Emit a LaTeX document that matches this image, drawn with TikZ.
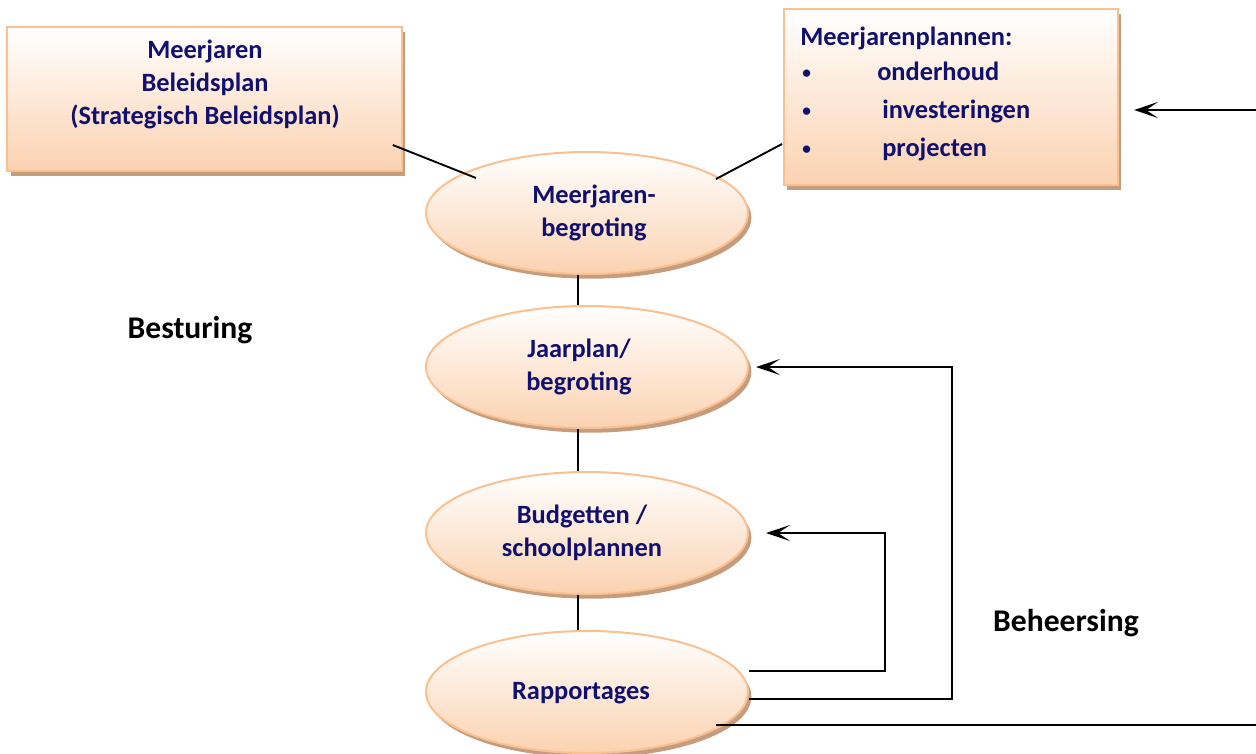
\documentclass[tikz,border=0pt]{standalone}
\usepackage{fontspec}
\setmainfont{Carlito}
\usetikzlibrary{shapes.geometric,shadows,arrows.meta}
\definecolor{navytext}{RGB}{16,16,112}
\definecolor{peachfill}{RGB}{251,210,176}
\definecolor{peachline}{RGB}{250,192,144}
\definecolor{shadowtan}{RGB}{196,156,126}
\tikzset{
  peach/.style={draw=peachline, line width=1.5pt, top color=white, bottom color=peachfill,
    drop shadow={shadow xshift=2.5pt, shadow yshift=-3.5pt, fill=shadowtan, opacity=1}},
  planbox/.style={peach, rectangle, inner sep=0pt},
  fase/.style={peach, ellipse, minimum width=241.5pt, minimum height=91.5pt, inner sep=0pt},
  boxtext/.style={inner sep=0pt, text=navytext, font=\fontsize{19.8}{24.75}\selectfont\bfseries},
  bol/.style={inner sep=0pt, text=navytext, font=\fontsize{13}{16}\selectfont\bfseries},
  kop/.style={inner sep=0pt, font=\fontsize{23.7}{28}\selectfont\bfseries},
  verbinding/.style={line width=1.4pt},
  terug/.style={line width=1.4pt, -{Stealth[length=18pt,width=12pt,inset=9pt]}}
}
\begin{document}
\begin{tikzpicture}[x=0.75pt,y=-0.75pt]
\useasboundingbox (0,0) rectangle (1256,753);
% kaders bovenaan
\node[planbox, minimum width=296pt, minimum height=108pt] (beleidsplan) at (204.5,99) {};
\node[boxtext, align=center] (beleidstekst) at (205,84) {Meerjaren\\Beleidsplan\\(Strategisch Beleidsplan)};
\node[planbox, minimum width=250.5pt, minimum height=132pt] (plannen) at (951,97) {};
\node[boxtext, anchor=base west] (plankop) at (800,45) {Meerjarenplannen:};
\node[bol, anchor=base west] (bol1) at (802,78) {•};
\node[bol, anchor=base west] (bol2) at (802,116) {•};
\node[bol, anchor=base west] (bol3) at (802,154) {•};
\node[boxtext, anchor=base west] (item1) at (877,80) {onderhoud};
\node[boxtext, anchor=base west] (item2) at (882,118) {investeringen};
\node[boxtext, anchor=base west] (item3) at (882,156) {projecten};
% ellipsen
\node[fase] (mjbegroting) at (587,213) {};
\node[fase] (jaarplan) at (587,367) {};
\node[fase] (budgetten) at (587,533) {};
\node[fase] (rapportages) at (587,692) {};
\node[boxtext, align=center] (mjtekst) at (594,213) {Meerjaren-\\begroting};
\node[boxtext, align=center] (jptekst) at (579,367) {Jaarplan/\\begroting};
\node[boxtext, align=center] (bgtekst) at (582,533) {Budgetten /\\schoolplannen};
\node[boxtext, align=center] (rptekst) at (581,693) {Rapportages};
% labels
\node[kop] (besturing) at (190,330) {Besturing};
\node[kop] (beheersing) at (1066,623) {Beheersing};
% verbindingen
\draw[verbinding] ([shift={(-10,-27)}]beleidsplan.south east) -- ([shift={(-111,-35)}]mjbegroting.center);
\draw[verbinding] ([shift={(-1,-42)}]plannen.south west) -- ([shift={(129,-34)}]mjbegroting.center);
\draw[verbinding] ([xshift=-6.75pt]mjbegroting.south) -- ([xshift=-6.75pt]jaarplan.north);
\draw[verbinding] ([xshift=-6.75pt]jaarplan.south) -- ([xshift=-6.75pt]budgetten.north);
\draw[verbinding] ([xshift=-6.75pt]budgetten.south) -- ([xshift=-6.75pt]rapportages.north);
\coordinate (invoer) at (1256,110);
\coordinate (uitvoer) at (1256,725);
\draw[terug] (invoer) -- ([xshift=11.25pt]plannen.east |- invoer);
\draw[terug] ([yshift=15.75pt]rapportages.east) -| ([xshift=102pt]budgetten.east) -- ([xshift=12.75pt]budgetten.east);
\draw[terug] ([yshift=-5.25pt]rapportages.east) -| ([xshift=152.25pt]jaarplan.east) -- ([xshift=5.25pt]jaarplan.east);
\draw[verbinding] ([shift={(129,33)}]rapportages.center) -- (uitvoer);
\end{tikzpicture}
\end{document}
